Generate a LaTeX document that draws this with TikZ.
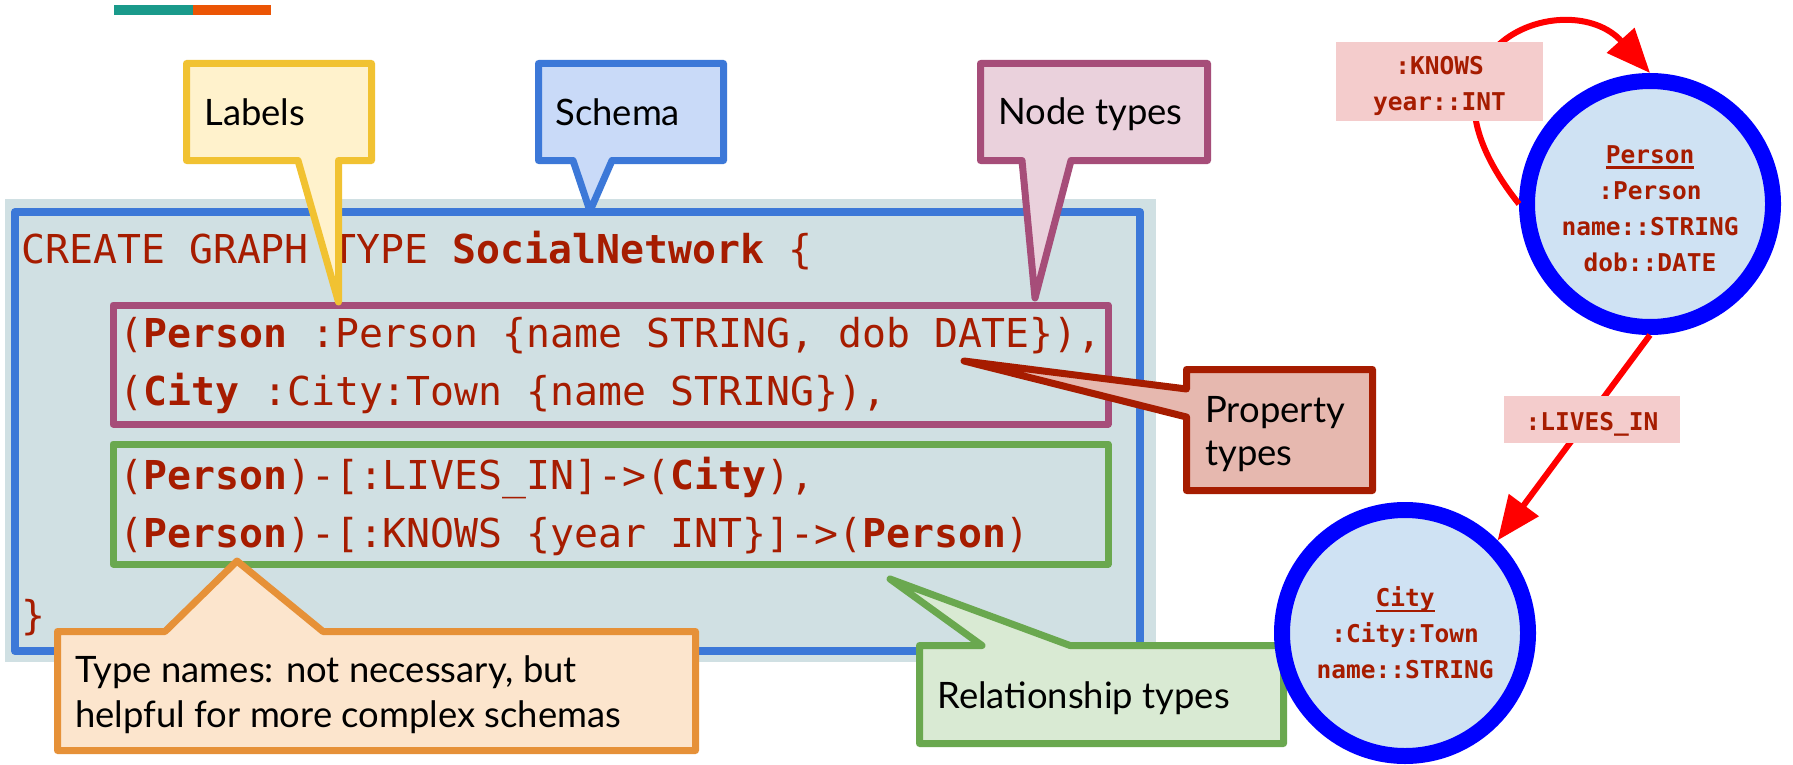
\documentclass[tikz,border=0pt]{standalone}
\usepackage{fontspec}
\setmainfont{Lato}
\newfontfamily\codefont{DejaVu Sans Mono}
\usetikzlibrary{arrows.meta}
\newcommand{\tul}[1]{\vtop{\hbox{\raisebox{0pt}[\height][0pt]{#1}}\kern1.4pt\hrule height 1.3pt}}
\definecolor{codered}{HTML}{A61C00}
\definecolor{barteal}{HTML}{1A9A8B}
\definecolor{barorange}{HTML}{EB5505}
\definecolor{schemabg}{HTML}{D0E0E3}
\definecolor{schemablue}{HTML}{3C78D8}
\definecolor{schemafill}{HTML}{C9DAF8}
\definecolor{nodepurple}{HTML}{A64D79}
\definecolor{nodefill}{HTML}{EAD1DC}
\definecolor{relgreen}{HTML}{6AA84F}
\definecolor{relfill}{HTML}{D9EAD3}
\definecolor{labyellow}{HTML}{F1C232}
\definecolor{labfill}{HTML}{FFF2CC}
\definecolor{propred}{HTML}{A61C00}
\definecolor{propfill}{HTML}{E6B8AF}
\definecolor{tnorange}{HTML}{E69138}
\definecolor{tnfill}{HTML}{FCE5CD}
\definecolor{gblue}{HTML}{0000FF}
\definecolor{gfill}{HTML}{CFE2F3}
\definecolor{lblpink}{HTML}{F4CCCC}
\tikzset{
  codetext/.style={anchor=base west, inner sep=0pt, text=codered,
    font=\codefont\fontsize{19.9}{24}\selectfont},
  calltext/.style={anchor=base west, inner sep=0pt, text=black,
    font=\fontsize{18.2}{22}\selectfont},
  callout/.style={line width=3.5pt, line join=round},
  gnode/.style={circle, draw=gblue, fill=gfill, line width=8pt,
    minimum size=123pt, inner sep=0pt, align=center, text=codered,
    font=\codefont\bfseries\fontsize{12.25}{18}\selectfont},
  rlabel/.style={fill=lblpink, inner sep=0pt, align=center, text=codered,
    font=\codefont\bfseries\fontsize{12.25}{18}\selectfont},
  rel/.style={draw=red, line width=3pt, -{Triangle[length=22pt,width=18pt]}}
}
\begin{document}
\begin{tikzpicture}[x=0.5pt,y=-0.5pt]
\useasboundingbox (0,0) rectangle (1793,765);
\fill[white] (0,0) rectangle (1793,765);
% top bar
\fill[barteal] (114,5) rectangle (193,15);
\fill[barorange] (193,5) rectangle (271,15);
% schema box
\fill[schemabg] (5,199) rectangle (1156,662);
\draw[schemablue, line width=4pt, line join=round] (15,212) rectangle (1140,651);
\draw[nodepurple, line width=3.5pt, line join=round] (113,305) rectangle (1108,424);
\draw[relgreen, line width=3.5pt, line join=round] (113,444) rectangle (1108,564);
% code
\node[codetext] (l0) at (21,263) {CREATE GRAPH TYPE \textbf{SocialNetwork} \{};
\node[codetext] (l1) at (119,347) {(\textbf{Person} :Person \{name STRING, dob DATE\}),};
\node[codetext] (l2) at (119,405) {(\textbf{City} :City:Town \{name STRING\}),};
\node[codetext] (l3) at (119,489) {(\textbf{Person})-[:LIVES\_IN]->(\textbf{City}),};
\node[codetext] (l4) at (119,547) {(\textbf{Person})-[:KNOWS \{year INT\}]->(\textbf{Person})};
\node[codetext] (l5) at (21,629) {\}};
% callouts
\filldraw[callout, draw=labyellow, fill=labfill]
  (186.5,63.5) -- (371.5,63.5) -- (371.5,160.5) -- (338.5,160.5) -- (338.5,302)
  -- (298,160.5) -- (186.5,160.5) -- cycle;
\node[calltext] (labels) at (204,126) {Labels};
\filldraw[callout, draw=schemablue, fill=schemafill]
  (538.5,63.5) -- (723.5,63.5) -- (723.5,160.5) -- (612,160.5) -- (590,211)
  -- (573,160.5) -- (538.5,160.5) -- cycle;
\node[calltext] (schema) at (555,126) {Schema};
\filldraw[callout, draw=nodepurple, fill=nodefill]
  (980.5,63.5) -- (1207.5,63.5) -- (1207.5,160.5) -- (1071,160.5) -- (1035,298)
  -- (1022,160.5) -- (980.5,160.5) -- cycle;
\node[calltext] (nodetypes) at (998,125) {Node types};
\filldraw[callout, draw=propred, fill=propfill]
  (1186.5,369.5) -- (1372.5,369.5) -- (1372.5,490.5) -- (1186.5,490.5)
  -- (1186.5,417) -- (964,361) -- (1186.5,389) -- cycle;
\node[calltext] (prop1) at (1205,422) {Property};
\node[calltext] (prop2) at (1205,465) {types};
\filldraw[callout, draw=tnorange, fill=tnfill]
  (57.5,631.5) -- (165,631.5) -- (237,561) -- (323,631.5) -- (695.5,631.5)
  -- (695.5,750.5) -- (57.5,750.5) -- cycle;
\node[calltext] (tn1) at (75,682) {Type names: not necessary, but};
\node[calltext] (tn2) at (75,727) {helpful for more complex schemas};
\filldraw[callout, draw=relgreen, fill=relfill]
  (919.5,645.5) -- (982,645.5) -- (890,579) -- (1070,645.5) -- (1283.5,645.5)
  -- (1283.5,743.5) -- (919.5,743.5) -- cycle;
\node[calltext] (reltypes) at (937,708) {Relationship types};
% graph
\node[gnode] (person) at (1650,204) {\rule{0pt}{13.8pt}\tul{Person}\\:Person\\name::STRING\\dob::DATE};
\node[gnode] (city) at (1405,633) {\tul{City}\\:City:Town\\name::STRING};
\draw[rel] (person.180) .. controls (1392,45) and (1569,-17) .. (person.90);
\draw[rel] (person.270) -- (city.45);
\node[rlabel, minimum width=103.5pt, minimum height=39.5pt] (knows) at (1439.5,81.5) {\rule{0pt}{13.5pt}:KNOWS\\year::INT};
\node[rlabel, minimum width=88pt, minimum height=23.5pt] (livesin) at (1592,419.5) {\rule{0pt}{13.6pt}:LIVES\_IN};
\end{tikzpicture}
\end{document}
